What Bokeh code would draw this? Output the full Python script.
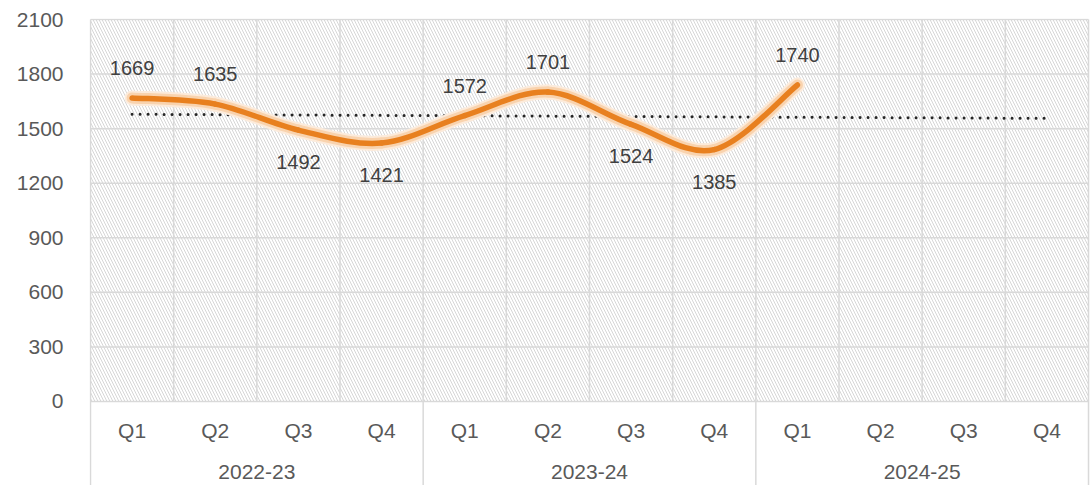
import numpy as np
from bokeh.plotting import figure
from bokeh.models import Range1d, FixedTicker, ColumnDataSource
from bokeh.core.properties import value
from bokeh.embed import file_html
from bokeh.resources import INLINE

# ---- data ----
years = ["2022-23", "2023-24", "2024-25"]
quarters = ["Q1", "Q2", "Q3", "Q4", "Q1", "Q2", "Q3", "Q4", "Q1", "Q2", "Q3", "Q4"]
values = [1669, 1635, 1492, 1421, 1572, 1701, 1524, 1385, 1740]
label_pos = ["above", "above", "below", "below", "above", "above", "below", "below", "above"]
y_ticks = [0, 300, 600, 900, 1200, 1500, 1800, 2100]

FONT = "Liberation Sans"
GRID = "#D9D9D9"
TEXT = "#595959"

n_cat = len(quarters)
per_year = n_cat // len(years)
Y_BOTTOM = -461.8

p = figure(width=1090, height=485,
           x_range=Range1d(-0.012, n_cat + 0.024),
           y_range=Range1d(Y_BOTTOM, 2105.5),
           output_backend="svg", toolbar_location=None,
           x_axis_location=None,
           min_border_left=89, min_border_right=0,
           min_border_top=18, min_border_bottom=0)
p.outline_line_color = None
p.background_fill_color = "white"
p.border_fill_color = "white"
p.xgrid.visible = False
p.ygrid.visible = False

# y axis
p.yaxis.ticker = FixedTicker(ticks=y_ticks)
p.yaxis.axis_line_color = None
p.yaxis.major_tick_line_color = None
p.yaxis.minor_tick_line_color = None
p.yaxis.major_tick_out = 0
p.yaxis.major_label_standoff = 26
p.yaxis.major_label_text_font = FONT
p.yaxis.major_label_text_font_size = "21px"
p.yaxis.major_label_text_color = TEXT

# hatched plot area
p.quad(left=[0], right=[n_cat], bottom=[y_ticks[0]], top=[y_ticks[-1]],
       fill_color=None, line_color=None,
       hatch_pattern="left_diagonal_line", hatch_color="#D6D6D6",
       hatch_scale=6, hatch_weight=1)

# horizontal gridlines
p.segment(x0=[0] * len(y_ticks), x1=[n_cat] * len(y_ticks), y0=y_ticks, y1=y_ticks,
          line_color=GRID, line_width=1.5)

# vertical category boundaries
inner = [b for b in range(1, n_cat) if b % per_year != 0]
p.segment(x0=inner, x1=inner, y0=[y_ticks[0]] * len(inner), y1=[y_ticks[-1]] * len(inner),
          line_color=GRID, line_width=1.5)
outer = list(range(0, n_cat + 1, per_year))
p.segment(x0=outer, x1=outer, y0=[Y_BOTTOM] * len(outer), y1=[y_ticks[-1]] * len(outer),
          line_color=GRID, line_width=1.5)

# category labels
qx = [i + 0.5 for i in range(n_cat)]
p.text(x=qx, y=[-159] * n_cat, text=quarters, text_align="center", text_baseline="middle",
       text_font=value(FONT), text_font_size="21px", text_color=TEXT)
yx = [per_year * (i + 0.5) for i in range(len(years))]
p.text(x=yx, y=[-390] * len(years), text=years, text_align="center", text_baseline="middle",
       text_font=value(FONT), text_font_size="21px", text_color=TEXT)

# trendline (linear fit of the series, extended across all categories)
xi = np.arange(1, len(values) + 1)
slope, icpt = np.polyfit(xi, values, 1)
tx = [0.5, n_cat - 0.5]
ty = [slope * 1 + icpt, slope * n_cat + icpt]
p.line(x=tx, y=ty, line_color="#262626", line_width=3, line_dash="0 8", line_cap="round")

# smoothed series (Catmull-Rom -> cubic Bezier)
px = np.array([i + 0.5 for i in range(len(values))], dtype=float)
py = np.array(values, dtype=float)
ext_x = np.concatenate([[px[0]], px, [px[-1]]])
ext_y = np.concatenate([[py[0]], py, [py[-1]]])
x0, y0, x1, y1, cx0, cy0, cx1, cy1 = [], [], [], [], [], [], [], []
for i in range(len(values) - 1):
    a, b, c, d = i, i + 1, i + 2, i + 3
    x0.append(ext_x[b]); y0.append(ext_y[b])
    x1.append(ext_x[c]); y1.append(ext_y[c])
    cx0.append(ext_x[b] + (ext_x[c] - ext_x[a]) / 6); cy0.append(ext_y[b] + (ext_y[c] - ext_y[a]) / 6)
    cx1.append(ext_x[c] - (ext_x[d] - ext_x[b]) / 6); cy1.append(ext_y[c] - (ext_y[d] - ext_y[b]) / 6)
src = ColumnDataSource(dict(x0=x0, y0=y0, x1=x1, y1=y1, cx0=cx0, cy0=cy0, cx1=cx1, cy1=cy1))
for w, col in [(15, "#FCEBDB"), (11, "#F9D3AE"), (5.5, "#E8801F")]:
    p.bezier(x0="x0", y0="y0", x1="x1", y1="y1", cx0="cx0", cy0="cy0", cx1="cx1", cy1="cy1",
             source=src, line_color=col, line_width=w, line_cap="round")

# data labels
offs = [-30 if pos == "above" else 32 for pos in label_pos]
p.text(x=list(px), y=values, text=[str(v) for v in values], y_offset=offs,
       text_align="center", text_baseline="middle",
       text_font=value(FONT), text_font_size="20px", text_color="#404040")

open("out.html", "w").write(file_html(p, INLINE))
